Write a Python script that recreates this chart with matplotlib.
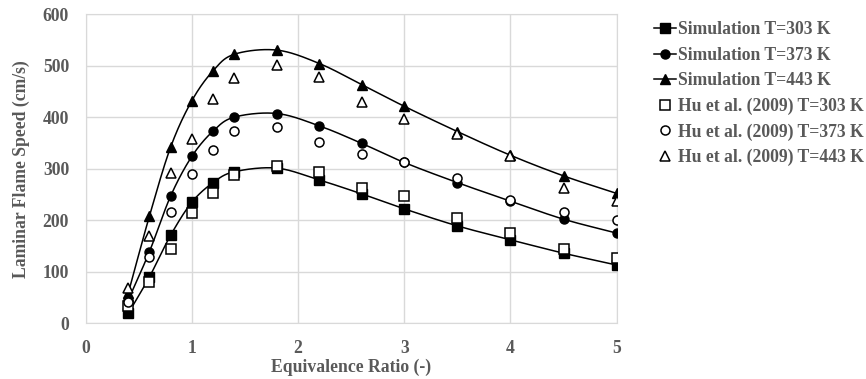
import numpy as np
import matplotlib
matplotlib.use("Agg")
from matplotlib import pyplot as plt

# equivalence ratio
phi = [0.4, 0.6, 0.8, 1.0, 1.2, 1.4, 1.8, 2.2, 2.6, 3.0, 3.5, 4.0, 4.5, 5.0]

# simulation (cm/s)
sim_303 = [19, 90, 171, 235, 273, 294, 301, 278, 251, 222, 189, 162, 136, 113]
sim_373 = [45, 139, 247, 324, 373, 400, 407, 383, 349, 312, 273, 237, 202, 175]
sim_443 = [58, 208, 342, 432, 490, 522, 530, 504, 463, 421, 372, 326, 286, 252]

# Hu et al. (2009)
hu_303 = [33, 81, 144, 213, 252, 288, 306, 294, 263, 247, 204, 176, 145, 127]
hu_373 = [42, 128, 215, 290, 337, 373, 380, 352, 328, 313, 281, 240, 216, 200]
hu_443 = [68, 169, 291, 358, 435, 476, 501, 478, 430, 396, 367, 325, 263, 237]


def smooth(x, y, n=30):
    # Excel-like smoothed line (Catmull-Rom through the points)
    x = np.asarray(x, float)
    y = np.asarray(y, float)
    px = np.concatenate([[2 * x[0] - x[1]], x, [2 * x[-1] - x[-2]]])
    py = np.concatenate([[2 * y[0] - y[1]], y, [2 * y[-1] - y[-2]]])
    xs, ys = [], []
    t = np.linspace(0, 1, n)
    for i in range(1, len(px) - 2):
        for arr, out in ((px, xs), (py, ys)):
            p0, p1, p2, p3 = arr[i - 1], arr[i], arr[i + 1], arr[i + 2]
            out.extend(0.5 * ((2 * p1) + (-p0 + p2) * t
                              + (2 * p0 - 5 * p1 + 4 * p2 - p3) * t ** 2
                              + (-p0 + 3 * p1 - 3 * p2 + p3) * t ** 3))
    return xs, ys


gray = '#595959'
fs = 12.7
plt.rcParams['font.family'] = ['Liberation Serif', 'DejaVu Serif']
plt.rcParams['font.weight'] = 'bold'
plt.rcParams['font.size'] = fs

fig = plt.figure(figsize=(8.66, 3.79), dpi=100)
ax = fig.add_axes([0.099, 0.147, 0.613, 0.816])

ms = 6.5
for y, m, lab in ((sim_303, 's', 'Simulation T=303 K'),
                  (sim_373, 'o', 'Simulation T=373 K'),
                  (sim_443, '^', 'Simulation T=443 K')):
    sx, sy = smooth(phi, y)
    ax.plot(sx, sy, '-', color='black', lw=1.1, zorder=3)
    ax.plot(phi, y, m, color='black', ms=ms, zorder=4)
    ax.plot([], [], '-', marker=m, color='black', ms=ms, lw=1.1, label=lab)

for y, m, lab in ((hu_303, 's', 'Hu et al. (2009) T=303 K'),
                  (hu_373, 'o', 'Hu et al. (2009) T=373 K'),
                  (hu_443, '^', 'Hu et al. (2009) T=443 K')):
    ax.plot(phi, y, m, mfc='white', mec='black', mew=1.1, ms=ms,
            linestyle='none', label=lab, zorder=5)

ax.set_xlim(0, 5)
ax.set_ylim(0, 600)
ax.set_xticks(range(0, 6))
ax.set_yticks(range(0, 700, 100))
ax.grid(True, color='#d9d9d9', lw=1)
ax.set_axisbelow(True)
for s in ax.spines.values():
    s.set_color('#d9d9d9')
ax.tick_params(length=0, colors=gray, labelsize=fs)
ax.tick_params(axis='x', pad=12)
ax.tick_params(axis='y', pad=12)
ax.set_xlabel('Equivalence Ratio (-)', color=gray, fontsize=fs, fontweight='bold', labelpad=1)
ax.set_ylabel('Laminar Flame Speed (cm/s)', color=gray, fontsize=fs, fontweight='bold', labelpad=9)

leg = fig.legend(loc='upper left', bbox_to_anchor=(0.755, 0.944), frameon=False,
                 borderpad=0, borderaxespad=0,
                 handlelength=1.25, handletextpad=0.1, labelspacing=0.48,
                 fontsize=fs, numpoints=1)
for t in leg.get_texts():
    t.set_color(gray)

fig.savefig('out.png', dpi=100)
